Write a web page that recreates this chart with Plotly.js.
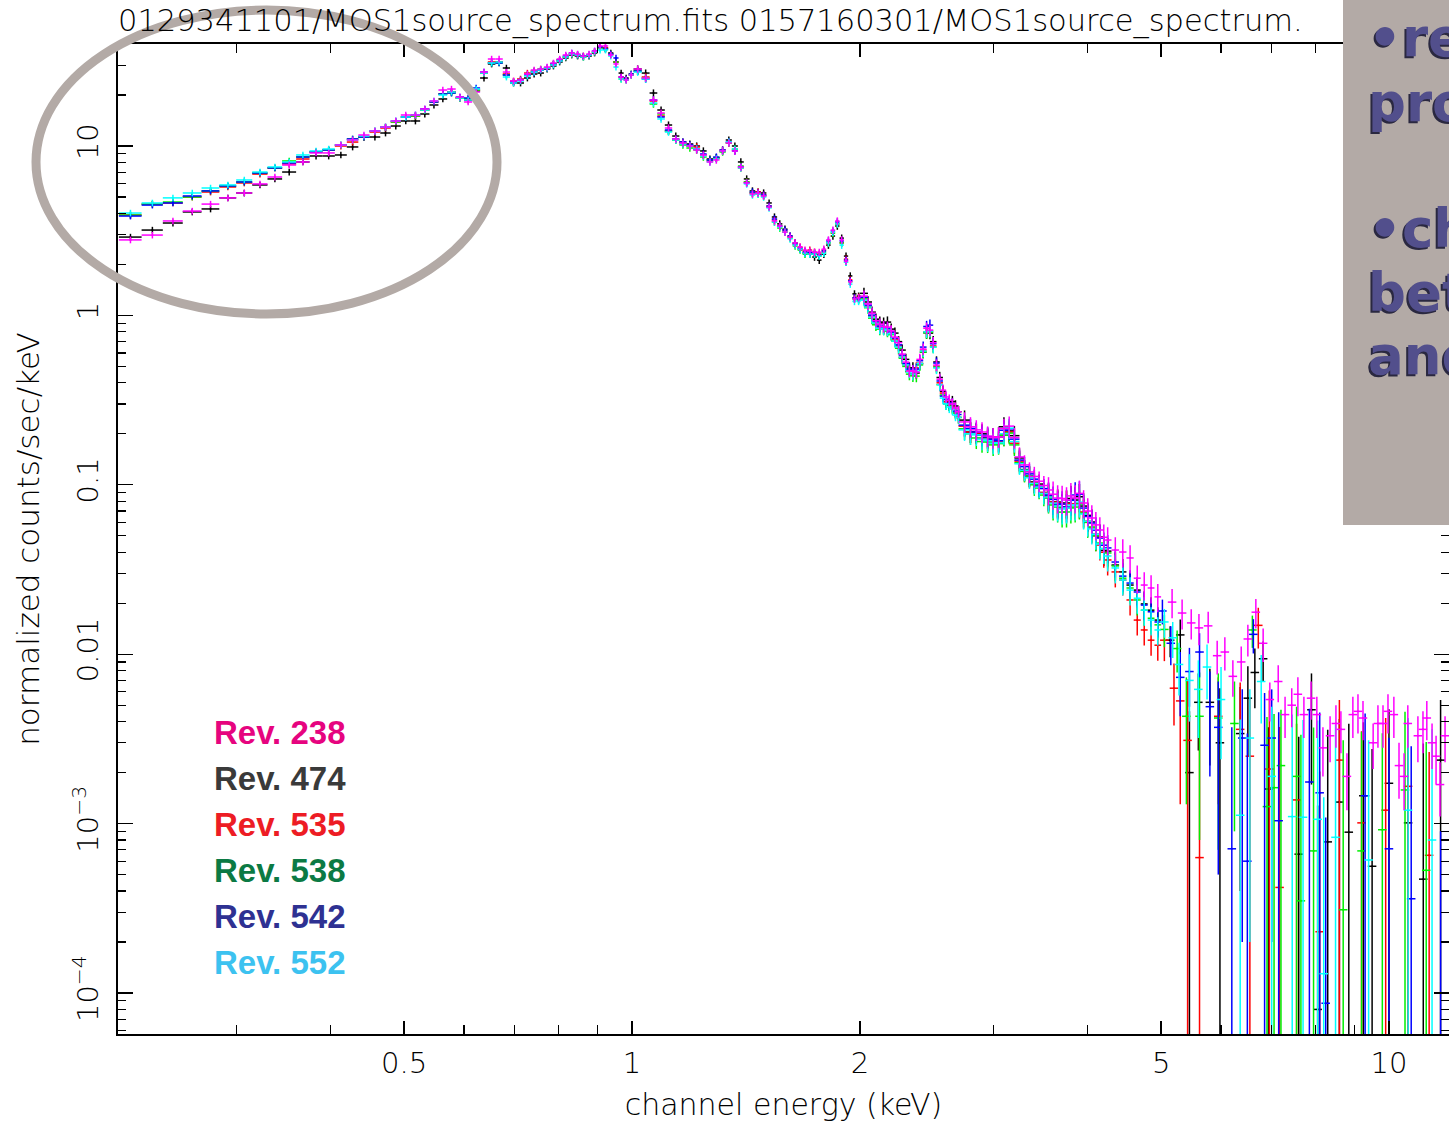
<!DOCTYPE html>
<html>
<head>
<meta charset="utf-8">
<script src="https://cdn.plot.ly/plotly-3.0.1.min.js"></script>
<style>
html,body{margin:0;padding:0;background:#ffffff;}
#chart{width:1449px;height:1126px;}
</style>
</head>
<body>
<div id="chart"></div>
<script>
// ---------------- DATA ----------------
// Energy bin centres (keV)
const energyA = [0.2175,0.2325,0.2475,0.2625,0.2775,0.2925,0.3075,0.3225,0.3375,0.3525,0.3675,0.3825,0.3975,0.4125,0.4275,0.4425,0.4575,0.4725,0.4875,0.5025,0.5175,0.5325,0.5475,0.5625,0.5775,0.5925,0.6075,0.6225,0.6375,0.6525,0.6675,0.6825,0.6975,0.7125,0.7275,0.7425,0.7575,0.7725,0.7875,0.8025,0.8175,0.8325,0.8475,0.8625,0.8775,0.8925,0.9075,0.9225,0.9375,0.9525,0.9675,0.9825,0.9975];
const energyB = [1.0175,1.0425,1.0675,1.0925,1.1175,1.1425,1.1675,1.1925,1.2175,1.2425,1.2675,1.2925,1.3175,1.3425,1.3675,1.3925,1.4175,1.4425,1.4675,1.4925,1.5175,1.5425,1.5675,1.5925,1.6175,1.6425,1.6675,1.6925,1.7175,1.7425,1.7675,1.7925,1.8175,1.8425,1.8675,1.8925,1.9175,1.9425,1.9675,1.9925];
const energyC = [2.025,2.075,2.125,2.175,2.225,2.275,2.325,2.375,2.425,2.475,2.525,2.575,2.625,2.675,2.75,2.85,2.95,3.05,3.15,3.25,3.35,3.45,3.55,3.65,3.75,3.85,3.95,4.05,4.15,4.25,4.35,4.45,4.55,4.65,4.75,4.85,4.95];
const energyC2 = [2.05,2.10,2.15,2.20,2.25,2.30,2.35,2.40,2.45,2.50,2.55,2.60,2.65,2.70,2.80,2.90,3.00,3.10,3.20,3.30,3.40,3.50,3.60,3.70,3.80,3.90,4.00,4.10,4.20];

// normalized counts/sec/keV, 0.21-1.0 keV
const rev238A = [2.79,2.98,3.61,4.13,4.54,4.94,5.28,5.97,6.56,7.72,8.05,9.10,9.10,10.14,10.85,11.61,12.26,12.94,14.05,15.24,15.24,16.53,18.44,21.40,21.69,19.46,18.19,20.83,27.32,32.62,32.62,27.32,24.19,24.52,26.61,28.09,28.47,29.25,30.91,32.62,34.45,35.40,34.92,33.98,34.92,36.37,38.94,38.94,34.45,30.49,25.54,24.52,26.25];
const rev474A = [2.90,3.19,3.51,4.08,4.25,4.94,5.28,5.89,6.39,7.02,8.05,8.73,8.73,8.85,9.87,11.30,11.30,11.93,13.12,14.05,14.05,15.45,17.46,18.95,20.83,19.20,18.69,21.11,25.20,30.49,31.33,28.87,23.54,23.54,25.20,26.61,26.95,28.47,29.66,31.33,33.08,34.45,33.98,33.53,33.98,35.40,38.41,37.89,35.40,31.33,26.95,25.20,26.25];
const rev535A = [3.91,4.54,4.61,5.00,5.35,5.73,6.05,6.83,7.42,7.83,8.38,9.22,9.47,10.00,10.55,11.30,12.09,12.77,13.86,14.83,15.03,16.31,18.19,20.28,20.83,19.20,18.95,21.40,26.95,31.33,31.33,26.61,24.19,24.86,26.95,27.71,28.09,28.87,30.49,32.18,33.53,34.92,34.45,33.98,34.45,35.88,38.41,37.89,34.92,31.33,25.54,24.86,26.61];
const rev538A = [3.91,4.54,4.67,5.00,5.43,5.81,6.13,6.93,7.42,8.16,8.61,9.22,9.47,10.14,11.00,11.30,12.26,12.94,13.86,14.83,15.03,16.31,18.19,20.28,20.55,19.20,18.95,21.40,26.95,30.91,30.91,26.25,23.87,24.52,26.25,27.71,28.47,28.87,30.49,32.18,33.53,34.92,34.45,33.53,34.45,35.88,37.89,37.38,34.92,31.33,24.86,24.52,26.61];
const rev542A = [3.86,4.48,4.61,5.07,5.43,5.81,6.13,6.93,7.42,7.94,8.61,9.22,9.47,10.14,11.00,11.30,12.26,12.94,14.05,14.83,15.24,16.53,18.19,20.28,20.55,19.46,19.20,21.99,27.32,30.91,30.91,26.25,23.87,24.52,26.25,27.32,28.09,28.87,30.49,32.18,33.98,35.40,34.45,33.98,34.45,36.37,38.41,37.38,34.92,33.08,25.54,24.86,26.61];
const rev552A = [4.02,4.61,4.94,5.28,5.65,5.89,6.30,7.02,7.52,8.05,8.85,9.35,9.60,10.14,10.85,11.45,12.26,12.94,14.05,14.83,15.24,16.31,18.44,20.00,20.83,19.20,18.69,21.69,26.95,30.91,31.33,25.54,23.54,24.19,25.90,27.32,28.09,28.87,30.07,31.74,33.53,34.92,34.45,33.53,34.45,35.88,36.87,36.87,33.98,29.25,24.86,24.52,26.25];

// 1.0-2.0 keV
const rev238B = [28.47,25.20,18.69,15.66,12.77,11.00,10.42,10.00,9.47,8.85,8.05,8.27,9.35,10.42,9.35,7.52,6.05,5.21,5.28,5.07,4.36,3.61,3.37,3.10,2.90,2.68,2.53,2.43,2.40,2.36,2.36,2.46,2.79,3.19,3.61,2.79,2.09,1.58,1.25,1.27];
const rev474B = [28.47,26.95,20.55,16.31,13.30,11.45,10.55,10.28,10.00,9.35,8.38,8.50,9.35,10.85,10.00,8.05,6.39,5.43,5.35,5.28,4.61,3.81,3.47,3.23,2.94,2.68,2.46,2.33,2.30,2.21,2.12,2.30,2.60,2.94,3.37,2.86,2.24,1.71,1.34,1.30];
const rev535B = [27.71,25.54,18.44,15.03,12.26,10.85,10.28,10.00,9.87,8.85,8.16,8.50,9.47,10.42,9.47,7.42,6.13,5.28,5.35,5.14,4.42,3.66,3.37,3.15,2.90,2.64,2.53,2.40,2.43,2.36,2.30,2.43,2.68,3.06,3.47,2.68,2.15,1.62,1.27,1.28];
const rev538B = [27.71,25.20,17.70,15.45,12.26,10.85,10.14,9.73,9.47,8.61,8.27,8.50,9.22,10.42,9.60,7.62,6.13,5.28,5.21,5.07,4.36,3.56,3.28,3.10,2.86,2.57,2.43,2.30,2.33,2.30,2.24,2.36,2.68,3.06,3.47,2.68,2.06,1.58,1.25,1.23];
const rev542B = [27.71,24.86,18.69,14.83,12.43,11.00,10.55,10.14,9.60,8.97,8.27,8.61,9.47,10.55,9.35,7.52,6.05,5.35,5.28,5.14,4.42,3.71,3.37,3.19,2.94,2.64,2.50,2.36,2.36,2.33,2.27,2.40,2.75,3.15,3.56,2.75,2.12,1.60,1.27,1.25];
const rev552B = [27.32,24.86,17.94,14.44,12.09,10.85,10.28,10.00,9.60,8.73,8.05,8.38,9.35,10.55,9.60,7.42,5.97,5.14,5.21,5.00,4.31,3.56,3.33,3.10,2.83,2.60,2.46,2.33,2.30,2.30,2.24,2.33,2.68,3.10,3.47,2.60,2.06,1.53,1.21,1.21];

// 2.0-5.0 keV
const rev238C = [1.30,1.031,0.888,0.852,0.745,0.591,0.469,0.463,0.633,0.819,0.509,0.362,0.316,0.284,0.235,0.211,0.194,0.192,0.222,0.146,0.119,0.105,0.0932,0.0835,0.0813,0.0835,0.0781,0.0637,0.0541,0.0472,0.0412,0.0401,0.0370,0.0281,0.0256,0.0246,0.0218];
const rev474C = [1.35,1.045,0.913,0.913,0.786,0.624,0.489,0.457,0.607,0.786,0.531,0.357,0.296,0.292,0.241,0.202,0.189,0.192,0.208,0.144,0.113,0.101,0.0858,0.0791,0.0781,0.0813,0.0749,0.0603,0.0492,0.0406,0.0336,0.0306,0.0256,0.0239,0.0198,0.0182,0.0159];
const rev535C = [1.27,0.990,0.852,0.819,0.725,0.567,0.476,0.489,0.624,0.808,0.502,0.348,0.304,0.269,0.222,0.202,0.184,0.179,0.205,0.138,0.111,0.097,0.0847,0.0781,0.0770,0.0770,0.0691,0.0556,0.0441,0.0360,0.0306,0.0274,0.0209,0.0159,0.0139,0.0121,0.0113];
const rev538C = [1.25,0.964,0.830,0.808,0.705,0.559,0.450,0.438,0.607,0.797,0.495,0.339,0.296,0.265,0.214,0.189,0.179,0.175,0.202,0.135,0.113,0.0957,0.0835,0.0739,0.0691,0.0739,0.0681,0.0564,0.0453,0.0396,0.0332,0.0281,0.0246,0.0209,0.0182,0.0163,0.0149];
const rev542C = [1.28,1.004,0.864,0.841,0.735,0.583,0.482,0.482,0.650,0.876,0.523,0.334,0.304,0.272,0.225,0.205,0.192,0.182,0.214,0.140,0.116,0.0984,0.0870,0.0770,0.0739,0.0870,0.0729,0.0595,0.0485,0.0424,0.0350,0.0289,0.0263,0.0233,0.0195,0.0178,0.0155];
const rev552C = [1.23,0.977,0.841,0.819,0.705,0.567,0.463,0.469,0.616,0.808,0.489,0.325,0.288,0.258,0.211,0.197,0.182,0.177,0.216,0.133,0.110,0.0970,0.0847,0.0749,0.0729,0.0760,0.0672,0.0549,0.0447,0.0380,0.0323,0.0274,0.0239,0.0214,0.0182,0.0159,0.0139];

// 2.0-4.2 keV, interleaved bins
const rev238C2 = [1.17,0.93,0.86,0.81,0.69,0.53,0.47,0.55,0.84,0.69,0.42,0.33,0.30,0.27,0.22,0.205,0.19,0.215,0.19,0.131,0.112,0.099,0.088,0.083,0.086,0.089,0.070,0.058,0.049];
const rev474C2 = [1.20,0.95,0.90,0.83,0.70,0.55,0.49,0.52,0.79,0.70,0.43,0.31,0.31,0.27,0.205,0.20,0.19,0.22,0.195,0.123,0.104,0.090,0.079,0.074,0.083,0.085,0.066,0.051,0.041];
const rev535C2 = [1.13,0.90,0.84,0.78,0.66,0.51,0.45,0.52,0.80,0.66,0.40,0.31,0.29,0.25,0.205,0.188,0.178,0.198,0.176,0.121,0.103,0.090,0.079,0.073,0.077,0.078,0.061,0.050,0.040];
const rev538C2 = [1.11,0.88,0.83,0.77,0.64,0.50,0.44,0.51,0.79,0.65,0.39,0.30,0.285,0.25,0.20,0.18,0.172,0.196,0.172,0.120,0.100,0.087,0.076,0.069,0.073,0.077,0.060,0.050,0.042];
const rev542C2 = [1.15,0.92,0.85,0.80,0.67,0.52,0.47,0.54,0.86,0.68,0.41,0.32,0.30,0.26,0.215,0.196,0.186,0.21,0.186,0.128,0.108,0.095,0.082,0.077,0.081,0.088,0.065,0.054,0.044];
const rev552C2 = [1.12,0.90,0.83,0.78,0.65,0.51,0.45,0.52,0.80,0.65,0.39,0.30,0.28,0.25,0.20,0.186,0.176,0.20,0.18,0.122,0.102,0.089,0.078,0.072,0.076,0.079,0.061,0.051,0.042];

// 5-12 keV: own bins per observation (energy, value, 1-sigma error)
const rev238DE = [5.17,5.33,5.48,5.61,5.77,5.93,6.07,6.22,6.38,6.51,6.67,6.82,6.96,7.14,7.29,7.44,7.58,7.72,7.89,8.03,8.18,8.36,8.51,8.64,8.80,8.96,9.10,9.24,9.53,9.67,9.82,9.97,10.15,10.31,10.47,10.59,10.92,11.09,11.22,11.40,11.54,11.68,11.86];
const rev238DY = [0.0203,0.0175,0.0153,0.0143,0.0147,0.0098,0.0103,0.0074,0.0090,0.0123,0.0177,0.0116,0.0054,0.0069,0.0044,0.0050,0.0058,0.0044,0.0055,0.0044,0.0028,0.0033,0.0039,0.0036,0.0019,0.0044,0.0046,0.0042,0.0030,0.0039,0.0039,0.0046,0.0044,0.0022,0.0019,0.0039,0.0033,0.0036,0.0042,0.0030,0.0025,0.0017,0.0033];
const rev238DErr = [0.0040,0.0035,0.0031,0.0030,0.0031,0.0022,0.0023,0.0018,0.0021,0.0026,0.0035,0.0026,0.0014,0.0017,0.0012,0.0013,0.0015,0.0012,0.0014,0.0012,0.0009,0.0010,0.0011,0.0010,0.0007,0.0012,0.0012,0.0011,0.0009,0.0011,0.0011,0.0012,0.0012,0.0008,0.0007,0.0011,0.0010,0.0010,0.0011,0.0009,0.0008,0.0006,0.0010];

const rev474DE = [5.14,5.30,5.45,5.60,5.80,5.98,6.36,6.51,6.65,6.82,6.93,7.60,7.90,8.05,8.30,8.60,8.85,9.25,9.50,10.0,10.6,11.1,11.7];
const rev474DY = [0.0121,0.0130,0.0020,0.0052,0.0052,0.0030,0.0034,0.0055,0.0078,0.0094,0.0016,0.00066,0.0047,0.00008,0.00078,0.00134,0.00089,0.00146,0.00056,0.00173,0.00101,0.00047,0.00237];
const rev474DErr = [0.0025,0.0030,0.0026,0.0025,0.0030,0.0033,0.0030,0.0030,0.0030,0.0025,0.0021,0.0026,0.0030,0.0012,0.0028,0.0028,0.0030,0.0025,0.0022,0.0030,0.0023,0.0025,0.0030];

const rev535DE = [5.05,5.20,5.30,5.42,5.62,5.95,6.36,6.55,6.72,6.95,7.17,7.55,8.10,8.60,9.20,9.90,10.6,11.3];
const rev535DY = [0.0121,0.0063,0.0053,0.0031,0.00063,0.0043,0.0036,0.0025,0.0148,0.0021,0.00042,0.00138,0.00023,0.00237,0.00101,0.0012,0.00166,0.00065];
const rev535DErr = [0.0030,0.0025,0.0040,0.0040,0.0036,0.0030,0.0032,0.0030,0.0040,0.0040,0.0033,0.0025,0.0018,0.0030,0.0025,0.0030,0.0025,0.0020];

const rev538DE = [5.05,5.25,5.40,5.62,5.95,6.25,6.60,6.90,7.05,7.20,7.55,7.65,7.95,8.70,9.20,9.80,10.5,11.2];
const rev538DY = [0.0140,0.0108,0.0043,0.0043,0.0042,0.0039,0.0139,0.00126,0.00163,0.0022,0.0019,0.00035,0.00069,0.00031,0.00069,0.00092,0.00158,0.00053];
const rev538DErr = [0.0030,0.0030,0.0030,0.0035,0.0035,0.0030,0.0030,0.0030,0.0028,0.0025,0.0030,0.0030,0.0030,0.0028,0.0028,0.0025,0.0030,0.0025];

const rev542DE = [5.02,5.15,5.30,5.45,5.62,5.80,5.95,6.20,6.40,6.50,6.62,6.85,7.00,7.15,7.85,8.10,8.25,9.30,10.0,10.7,11.7];
const rev542DY = [0.0180,0.0116,0.0073,0.0079,0.0103,0.0049,0.0037,0.00071,0.0032,0.00060,0.0131,0.0029,0.0032,0.00104,0.00176,0.00152,0.000087,0.00146,0.00071,0.00036,0.00010];
const rev542DErr = [0.0030,0.0030,0.0030,0.0030,0.0030,0.0030,0.0032,0.0030,0.0030,0.0028,0.0030,0.0030,0.0030,0.0035,0.0030,0.0030,0.0010,0.0030,0.0025,0.0025,0.0008];

const rev552DE = [5.05,5.18,5.28,5.45,5.60,5.75,6.00,6.36,6.55,6.78,7.00,7.45,7.70,8.05,8.20,8.50,9.40,10.6,11.4];
const rev552DY = [0.0155,0.0125,0.0087,0.0070,0.0062,0.0084,0.0054,0.00112,0.0032,0.0069,0.0019,0.0011,0.00109,0.00106,0.00013,0.00083,0.00061,0.0012,0.0008];
const rev552DErr = [0.0030,0.0030,0.0030,0.0030,0.0030,0.0030,0.0030,0.0030,0.0030,0.0030,0.0030,0.0033,0.0030,0.0030,0.0013,0.0030,0.0025,0.0030,0.0028];

// labels
const revLabels = ['Rev. 238','Rev. 474','Rev. 535','Rev. 538','Rev. 542','Rev. 552'];
const revLabelColors = ['#e6047f','#3a3a3a','#ed1c24','#0b7a44','#2e3192','#3cc2f0'];
const xTickVals = [0.5,1,2,5,10];
const xTickText = ['0.5','1','2','5','10'];
const yTickVals = [1e-4,1e-3,0.01,0.1,1,10];
const yTickText = ['10<sup>\u22124</sup>','10<sup>\u22123</sup>','0.01','0.1','1','10'];
const titleText = '0129341101/MOS1source_spectrum.fits 0157160301/MOS1source_spectrum.';
const boxLines = ['\u2022re','pro','\u2022ch','bet','and'];

// ---------------- BUILD ----------------
const series = [
  {name:'Rev. 474', color:'#000000', A:rev474A, B:rev474B, C:rev474C, C2:rev474C2, dE:rev474DE, dY:rev474DY, dErr:rev474DErr},
  {name:'Rev. 535', color:'#ff0000', A:rev535A, B:rev535B, C:rev535C, C2:rev535C2, dE:rev535DE, dY:rev535DY, dErr:rev535DErr},
  {name:'Rev. 538', color:'#00ee00', A:rev538A, B:rev538B, C:rev538C, C2:rev538C2, dE:rev538DE, dY:rev538DY, dErr:rev538DErr},
  {name:'Rev. 542', color:'#0000ff', A:rev542A, B:rev542B, C:rev542C, C2:rev542C2, dE:rev542DE, dY:rev542DY, dErr:rev542DErr},
  {name:'Rev. 552', color:'#00ffff', A:rev552A, B:rev552B, C:rev552C, C2:rev552C2, dE:rev552DE, dY:rev552DY, dErr:rev552DErr},
  {name:'Rev. 238', color:'#ff00ff', A:rev238A, B:rev238B, C:rev238C, C2:rev238C2, dE:rev238DE, dY:rev238DY, dErr:rev238DErr}
];

const TH = 1.5;
function tr(s, x, y, ex, ey) {
  return {
    type:'scatter', mode:'markers', x:x, y:y, name:s.name, showlegend:false, hoverinfo:'skip',
    marker:{size:2, color:s.color},
    error_x:Object.assign({visible:true, width:0, thickness:TH, color:s.color}, ex),
    error_y:Object.assign({visible:true, width:0, thickness:TH, color:s.color}, ey)
  };
}
const traces = [];
series.forEach(s => {
  traces.push(tr(s, energyA, s.A, {type:'constant', value:0.0075}, {type:'percent', value:4.5}));
  traces.push(tr(s, energyB, s.B, {type:'constant', value:0.0125}, {type:'percent', value:5}));
  traces.push(tr(s, energyC.slice(0,14), s.C.slice(0,14), {type:'constant', value:0.025}, {type:'percent', value:8}));
  traces.push(tr(s, energyC2.slice(0,14), s.C2.slice(0,14), {type:'constant', value:0.025}, {type:'percent', value:8}));
  traces.push(tr(s, energyC.slice(14,22), s.C.slice(14,22), {type:'constant', value:0.05}, {type:'percent', value:14}));
  traces.push(tr(s, energyC2.slice(14,22), s.C2.slice(14,22), {type:'constant', value:0.05}, {type:'percent', value:14}));
  traces.push(tr(s, energyC.slice(22), s.C.slice(22), {type:'constant', value:0.05}, {type:'percent', value:19}));
  traces.push(tr(s, energyC2.slice(22), s.C2.slice(22), {type:'constant', value:0.05}, {type:'percent', value:19}));
  traces.push(tr(s, s.dE, s.dY, {type:'percent', value:1.3}, {type:'data', array:s.dErr}));
});

// geometry helpers (paper coordinates of the plotting box)
const W = 1449, H = 1126, L = 118, R = 0, T = 44, B = 92;
const pw = W - L - R, ph = H - T - B;
const px = v => (v - L) / pw;
const py = v => 1 - (v - T) / ph;

const yMinor = [];
for (let d = -5; d <= 1; d++) for (let m = 2; m <= 9; m++) yMinor.push(m * Math.pow(10, d));
const xMinor = [0.3,0.4,0.6,0.7,0.8,0.9,3,4,6,7,8,9];

const thin = {family:"'DejaVu Sans', sans-serif", weight:200, color:'#000'};

const annotations = [];
revLabels.forEach((t, i) => {
  annotations.push({xref:'paper', yref:'paper', x:px(212), y:py(732 + 46*i), xanchor:'left', yanchor:'middle',
    text:'<b>' + t + '</b>', showarrow:false,
    font:{family:"'Liberation Sans', Arial, sans-serif", size:33, color:revLabelColors[i]}});
});
const boxY = [37, 102, 229, 292, 355];
boxLines.forEach((t, i) => {
  annotations.push({xref:'paper', yref:'paper', x:px(1366), y:py(boxY[i]), xanchor:'left', yanchor:'middle',
    text:'<b>' + t + '</b>', showarrow:false,
    font:{family:"'DejaVu Sans', Verdana, sans-serif", size:53, color:'#524f8c', shadow:'-2px 2px 0px #2a2840'}});
});

const layout = {
  width:W, height:H,
  margin:{l:L, r:R, t:T, b:B, pad:0},
  paper_bgcolor:'#ffffff', plot_bgcolor:'#ffffff',
  showlegend:false,
  title:{text:titleText, x:118/W, xanchor:'left', xref:'container', y:1 - 20/H, yanchor:'middle', yref:'container',
    font:Object.assign({}, thin, {size:30.5})},
  xaxis:{
    type:'log', range:[-0.679, 1.0793], autorange:false,
    tickmode:'array', tickvals:xTickVals, ticktext:xTickText,
    ticks:'inside', ticklen:13, tickwidth:1.3, tickcolor:'#000',
    showline:true, linecolor:'#000', linewidth:1.6, mirror:'allticks',
    showgrid:false, zeroline:false,
    minor:{tickmode:'array', tickvals:xMinor, ticks:'inside', ticklen:9, tickwidth:1.2, tickcolor:'#000', showgrid:false},
    tickfont:Object.assign({}, thin, {size:29}),
    ticklabelstandoff:3,
    title:{text:'channel energy (keV)', font:Object.assign({}, thin, {size:30}), standoff:14}
  },
  yaxis:{
    type:'log', range:[-4.242, 1.6021], autorange:false,
    tickmode:'array', tickvals:yTickVals, ticktext:yTickText, tickangle:-90,
    ticks:'inside', ticklen:15, tickwidth:1.3, tickcolor:'#000',
    showline:true, linecolor:'#000', linewidth:1.6, mirror:'allticks',
    showgrid:false, zeroline:false,
    minor:{tickmode:'array', tickvals:yMinor, ticks:'inside', ticklen:8, tickwidth:1.2, tickcolor:'#000', showgrid:false},
    tickfont:Object.assign({}, thin, {size:29}),
    ticklabelstandoff:7,
    title:{text:'normalized counts/sec/keV', font:Object.assign({}, thin, {size:31}), standoff:18}
  },
  shapes:[
    {type:'rect', xref:'paper', yref:'paper', x0:px(1343), x1:px(1470), y0:py(525), y1:py(-10),
      fillcolor:'#b3aaa6', line:{width:0}, layer:'above'},
    {type:'circle', xref:'paper', yref:'paper', x0:px(36), x1:px(497), y0:py(314), y1:py(10),
      line:{color:'#b3aaa6', width:9}, layer:'above'}
  ],
  annotations:annotations
};

Plotly.newPlot('chart', traces, layout, {displayModeBar:false, staticPlot:true});
</script>
</body>
</html>
